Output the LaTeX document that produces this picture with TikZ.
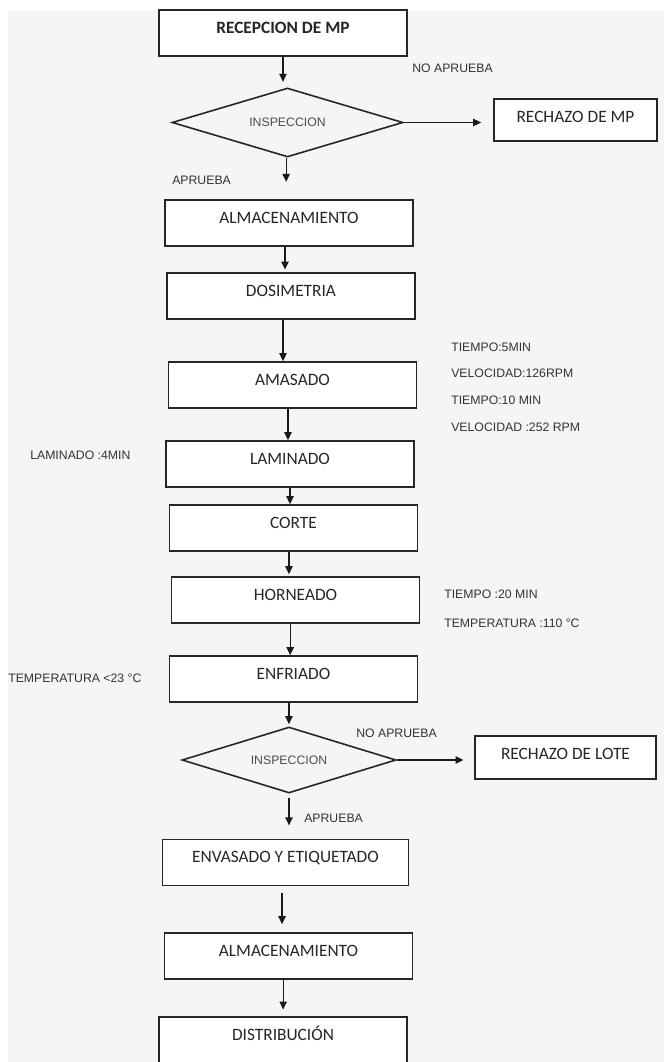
\documentclass[tikz,border=0pt]{standalone}
\usepackage{fontspec}
\setmainfont{Carlito}
\newfontfamily\arialfont{Liberation Sans}
\usetikzlibrary{shapes.geometric,arrows.meta}

\begin{document}
\begin{tikzpicture}[x=0.75pt,y=-0.75pt]
\tikzset{el/.style={draw=black!85, line width=1.2pt, fill=white, rectangle, minimum width=186pt, inner ysep=0pt,
  text height=17.6pt, text depth=16.9pt, font=\fontsize{13}{15}\selectfont, text=black!85},
 dec/.style={draw=black!85, line width=1.2pt, diamond, inner sep=0pt, aspect=3.3,
  font=\arialfont\fontsize{9.2}{11}\selectfont, text=black!70},
 lbl/.style={anchor=west, inner sep=0pt, font=\arialfont\fontsize{9.2}{11}\selectfont, text=black!80},
 flow/.style={-{Triangle[length=6pt,width=5.5pt]}, line width=1pt, black!90}}

\useasboundingbox (0,0) rectangle (664,1062);
\fill[gray!8] (8,10) rectangle (664,1062);

% Reception and first inspection
\node[el] (recep) at (283,33) {\bfseries RECEPCION DE MP};
\node[dec, minimum width=173.25pt, minimum height=51.75pt] (insp1) at (287.5,122.5) {INSPECCION};
\node[el, minimum width=122.25pt, text depth=13.9pt] (rechmp) at (575.5,120) {RECHAZO DE MP};
\node[lbl] (noap1) at (412,68) {NO APRUEBA};
\node[lbl] (ap1) at (172,180) {APRUEBA};

% Process steps
\node[el] (almac) at (289,223) {ALMACENAMIENTO};
\node[el] (dosim) at (291,296) {DOSIMETRIA};
\node[el] (amas) at (292.5,385) {AMASADO};
\node[el] (lamin) at (290,464) {LAMINADO};
\node[el] (corte) at (293.5,528) {CORTE};
\node[el] (horn) at (295.5,600) {HORNEADO};
\node[el] (enfr) at (293.5,679) {ENFRIADO};

% Parameters
\node[lbl] (t1) at (451,347) {TIEMPO:5MIN};
\node[lbl] (v1) at (451,373) {VELOCIDAD:126RPM};
\node[lbl] (t2) at (451,400) {TIEMPO:10 MIN};
\node[lbl] (v2) at (451,427) {VELOCIDAD :252 RPM};
\node[lbl] (tlam) at (30,455) {LAMINADO :4MIN};
\node[lbl] (thorn) at (444,594) {TIEMPO :20 MIN};
\node[lbl] (temph) at (444,623) {TEMPERATURA :110 °C};
\node[lbl] (tempe) at (8,678) {TEMPERATURA <23 °C};

% Second inspection
\node[dec, minimum width=160.5pt, minimum height=49.5pt] (insp2) at (289,760) {INSPECCION};
\node[el, minimum width=135.75pt, text depth=14.65pt] (rechlote) at (565.5,757.5) {RECHAZO DE LOTE};
\node[lbl] (noap2) at (356,733) {NO APRUEBA};
\node[lbl] (ap2) at (304,818) {APRUEBA};

% Final steps
\node[el, minimum width=184.5pt] (envas) at (285.5,862.5) {ENVASADO Y ETIQUETADO};
\node[el] (almac2) at (288.5,956) {ALMACENAMIENTO};
\node[el] (distr) at (283,1040) {DISTRIBUCIÓN};

% Connections
\draw[flow, shorten >=4pt] (recep.south) -- (recep.south |- insp1.north);
\draw[flow, shorten >=13pt] ([xshift=-1pt]insp1.south) -- ([xshift=-1pt]insp1.south |- almac.north);
\draw[flow, shorten >=2pt] ([xshift=-3pt]almac.south) -- ([xshift=-3pt]almac.south |- dosim.north);
\draw[flow] ([xshift=-6pt]dosim.south) -- ([xshift=-6pt]dosim.south |- amas.north);
\draw[flow] ([xshift=-3.4pt]amas.south) -- ([xshift=-3.4pt]amas.south |- lamin.north);
\draw[flow] (lamin.south) -- (lamin.south |- corte.north);
\draw[flow, shorten >=1.5pt] ([xshift=-3.4pt]corte.south) -- ([xshift=-3.4pt]corte.south |- horn.north);
\draw[flow] ([xshift=-4pt]horn.south) -- ([xshift=-4pt]horn.south |- enfr.north);
\draw[flow, shorten >=1.5pt] ([xshift=-3.4pt]enfr.south) -- ([xshift=-3.4pt]enfr.south |- insp2.north);
\draw[flow, shorten <=3pt, shorten >=10pt] (insp2.south) -- (insp2.south |- envas.north);
\draw[flow, shorten <=5pt, shorten >=6pt] ([xshift=-2.6pt]envas.south) -- ([xshift=-2.6pt]envas.south |- almac2.north);
\draw[flow, shorten <=-1.5pt, shorten >=5pt] ([xshift=-4pt]almac2.south) -- ([xshift=-4pt]almac2.south |- distr.north);

\draw[flow, shorten >=9pt] (insp1.east) -- (rechmp.west |- insp1.east);
\draw[flow, shorten >=8pt] (insp2.east) -- (rechlote.west |- insp2.east);

\end{tikzpicture}
\end{document}
